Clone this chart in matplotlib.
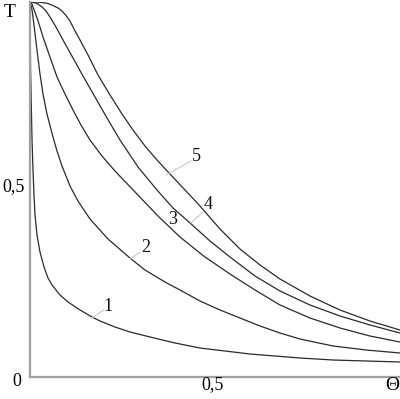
import matplotlib
matplotlib.use('Agg')
import matplotlib.pyplot as plt

plt.rcParams['font.family'] = ['Liberation Serif', 'DejaVu Serif']

# curve values (Theta, T)
theta_1 = [0.0, 0.0008, 0.0016, 0.0027, 0.0041, 0.0055, 0.0082, 0.0109, 0.0137, 0.0191,
           0.0273, 0.0383, 0.0492, 0.0601, 0.082, 0.1038, 0.1366, 0.1694, 0.1913, 0.2322,
           0.2732, 0.3279, 0.3962, 0.4645, 0.6011, 0.7377, 0.8279, 0.918, 1.0109]
t_1 = [1.0, 0.8987, 0.8187, 0.7653, 0.6987, 0.632, 0.552, 0.4853, 0.432, 0.3787,
       0.3333, 0.2933, 0.264, 0.2453, 0.2187, 0.2, 0.1787, 0.16, 0.1493, 0.1333,
       0.12, 0.1067, 0.0907, 0.0773, 0.0613, 0.0507, 0.0453, 0.0427, 0.04]

theta_2 = [0.0, 0.0027, 0.0055, 0.0109, 0.0191, 0.0273, 0.0355, 0.0464, 0.0628, 0.0738,
           0.0874, 0.1093, 0.1311, 0.1639, 0.2131, 0.2732, 0.3142, 0.3689, 0.4098, 0.4645,
           0.5191, 0.5738, 0.6284, 0.6831, 0.7377, 0.8279, 0.918, 1.0109]
t_2 = [1.0, 0.992, 0.9787, 0.9387, 0.872, 0.808, 0.7547, 0.7013, 0.64, 0.6027,
       0.5627, 0.5093, 0.4693, 0.4213, 0.368, 0.3173, 0.2853, 0.2533, 0.232, 0.2027,
       0.1787, 0.1573, 0.136, 0.1173, 0.1013, 0.0827, 0.072, 0.064]

theta_3 = [0.0, 0.0055, 0.0082, 0.0164, 0.0273, 0.0355, 0.0546, 0.0738, 0.0956, 0.1175,
           0.1393, 0.1639, 0.1967, 0.2322, 0.2923, 0.3497, 0.4098, 0.4781, 0.5464, 0.6148,
           0.6831, 0.765, 0.847, 0.929, 1.0109]
t_3 = [1.0, 0.9947, 0.9867, 0.9653, 0.9333, 0.9067, 0.8533, 0.8, 0.7547, 0.712,
       0.672, 0.632, 0.5893, 0.5493, 0.488, 0.4293, 0.3733, 0.32, 0.2747, 0.232,
       0.192, 0.1573, 0.1307, 0.1093, 0.0933]

theta_4 = [0.0, 0.0109, 0.0219, 0.0328, 0.0437, 0.0546, 0.071, 0.0902, 0.1175, 0.1448,
           0.1776, 0.2104, 0.2459, 0.2951, 0.347, 0.3907, 0.4372, 0.4918, 0.5464, 0.6148,
           0.6831, 0.765, 0.847, 0.929, 1.0109]
t_4 = [1.0, 0.9987, 0.9947, 0.9867, 0.976, 0.96, 0.9333, 0.8987, 0.8507, 0.8027,
       0.7467, 0.6907, 0.632, 0.56, 0.4987, 0.4507, 0.4107, 0.3627, 0.32, 0.2693,
       0.2293, 0.192, 0.1627, 0.1387, 0.1173]

theta_5 = [0.0, 0.0164, 0.0328, 0.0492, 0.0656, 0.0765, 0.0874, 0.0984, 0.1093, 0.1202,
           0.1366, 0.1585, 0.1858, 0.2186, 0.2514, 0.2814, 0.3142, 0.347, 0.3825, 0.4235,
           0.4645, 0.5191, 0.5738, 0.6284, 0.6831, 0.765, 0.847, 0.929, 1.0109]
t_5 = [1.0, 1.0, 0.9987, 0.996, 0.9893, 0.984, 0.976, 0.964, 0.9493, 0.928,
       0.8987, 0.8587, 0.8053, 0.752, 0.7013, 0.6587, 0.616, 0.5787, 0.5413, 0.4987,
       0.456, 0.3947, 0.3413, 0.2987, 0.2613, 0.216, 0.1787, 0.1493, 0.1253]

curves = [(theta_1, t_1), (theta_2, t_2), (theta_3, t_3), (theta_4, t_4), (theta_5, t_5)]

# curve number labels: text position, leader line start/end (None = no leader)
curve_labels = ['1', '2', '3', '4', '5']
label_pos = [(0.213, 0.187), (0.317, 0.344), (0.391, 0.419), (0.486, 0.459), (0.454, 0.587)]
leader_start = [(0.202, 0.179), (0.301, 0.333), None, (0.473, 0.44), (0.44, 0.576)]
leader_end = [(0.169, 0.157), (0.273, 0.315), None, (0.44, 0.411), (0.372, 0.539)]

fig = plt.figure(figsize=(4.0, 3.99), dpi=100)
ax = fig.add_axes([30 / 400, 22 / 399, 370 / 400, 375 / 399])

for th, t in curves:
    ax.plot(th, t, color='#2a2a2a', lw=0.9)

for txt, pos, st, en in zip(curve_labels, label_pos, leader_start, leader_end):
    ax.text(pos[0], pos[1], txt, fontsize=13, ha='center', va='center', color='#111111')
    if st is not None:
        ax.plot([st[0], en[0]], [st[1], en[1]], color='#c8c8c8', lw=0.8)

ax.set_xlim(0, 1.011)
ax.set_ylim(0, 1.0)
for s in ['top', 'right']:
    ax.spines[s].set_visible(False)
for s in ['left', 'bottom']:
    ax.spines[s].set_color('#a0a0a0')
    ax.spines[s].set_linewidth(1.6)
ax.set_xticks([])
ax.set_yticks([])

ax.text(-0.055, 0.973, 'T', fontsize=14, ha='center', va='center', clip_on=False)
ax.text(-0.044, 0.509, '0,5', fontsize=13, ha='center', va='center', clip_on=False)
ax.text(-0.036, -0.011, '0', fontsize=13, ha='center', va='center', clip_on=False)
ax.text(0.5, -0.021, '0,5', fontsize=13, ha='center', va='center', clip_on=False)
ax.text(0.989, -0.024, 'Θ', fontsize=14, ha='center', va='center', clip_on=False)

fig.savefig('out.png', dpi=100)
